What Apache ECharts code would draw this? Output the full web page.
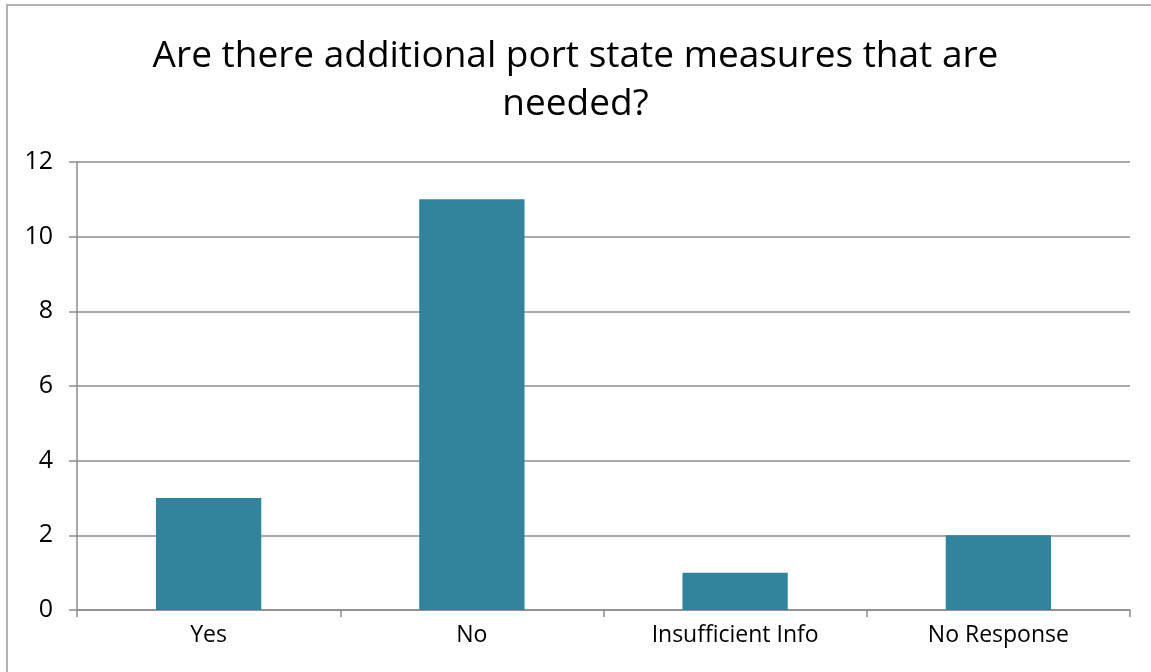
<!DOCTYPE html>
<html>
<head>
<meta charset="utf-8">
<script src="https://cdn.jsdelivr.net/npm/echarts@6/dist/echarts.min.js"></script>
<style>
  html, body { margin: 0; padding: 0; background: #fff; }
  #main { width: 1151px; height: 672px; }
</style>
</head>
<body>
<div id="main"></div>
<script>
// 数据
var categories = ['Yes', 'No', 'Insufficient Info', 'No Response'];
var counts = [3, 11, 1, 2];
var titleText = 'Are there additional port state measures that are\nneeded?';

var myChart = echarts.init(document.getElementById('main'));
var font = '"Open Sans", "Noto Sans", sans-serif';

var option = {
    animation: false,
    backgroundColor: '#fff',
    title: {
        text: titleText,
        left: 'center',
        top: 27,
        padding: [5, 0, 5, 14],
        textStyle: {
            fontFamily: font,
            fontSize: 37,
            fontWeight: 'normal',
            color: '#000',
            lineHeight: 48,
            align: 'center'
        }
    },
    // 外框
    graphic: [{
        type: 'rect',
        shape: { x: 7, y: 5, width: 1160, height: 700 },
        style: { fill: null, stroke: '#9a9a9a', lineWidth: 1.5 },
        silent: true
    }],
    grid: {
        left: 77,
        right: 21,
        top: 162,
        bottom: 62
    },
    xAxis: {
        type: 'category',
        data: categories,
        axisLine: { lineStyle: { color: '#8c8c8c', width: 1.5 } },
        axisTick: { show: true, length: 7, alignWithLabel: false, lineStyle: { color: '#8c8c8c', width: 1.5 } },
        axisLabel: { fontFamily: font, fontSize: 23, color: '#000', margin: 14 }
    },
    yAxis: {
        type: 'value',
        min: 0,
        max: 12,
        interval: 2,
        axisLine: { show: true, lineStyle: { color: '#8c8c8c', width: 1.5 } },
        axisTick: { show: true, length: 8, lineStyle: { color: '#8c8c8c', width: 1.5 } },
        splitLine: { lineStyle: { color: '#8c8c8c', width: 1.5 } },
        axisLabel: { fontFamily: font, fontSize: 25, color: '#000', margin: 24 }
    },
    series: [{
        name: 'count',
        type: 'bar',
        data: counts,
        barWidth: '40%',
        itemStyle: { color: '#31849b' }
    }]
};
myChart.setOption(option);
</script>
</body>
</html>
